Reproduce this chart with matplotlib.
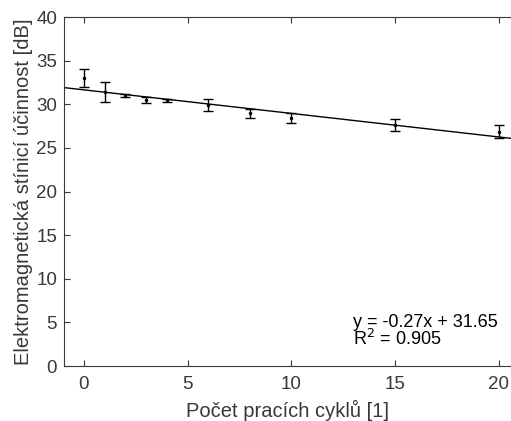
import matplotlib.pyplot as plt

plt.rcParams['font.family'] = ['Liberation Sans', 'DejaVu Sans']

cycles = [0, 1, 2, 3, 4, 6, 8, 10, 15, 20]
se = [33.0, 31.4, 30.98, 30.5, 30.45, 29.95, 28.96, 28.43, 27.57, 26.85]
err = [1.07, 1.15, 0.19, 0.33, 0.2, 0.7, 0.52, 0.53, 0.69, 0.76]
slope, intercept = -0.27, 31.65
r2 = 0.905

txt = '#383838'
fig = plt.figure(figsize=(5.11, 4.21), dpi=100)
ax = fig.add_axes([0.1252, 0.1306, 0.8748, 0.829])

xl = (-0.964, 20.58)
ax.plot(xl, [slope * x + intercept for x in xl], color='black', lw=1)
ax.errorbar(cycles, se, yerr=err, fmt='.', ms=3, color='black',
            ecolor='black', elinewidth=1, capsize=3.5, capthick=1)

ax.set_xlim(xl)
ax.set_ylim(0, 40)
ax.set_xticks([0, 5, 10, 15, 20])
ax.set_yticks(range(0, 41, 5))
ax.spines['right'].set_visible(False)
ax.tick_params(direction='in', top=True, right=False, labelsize=13.5,
               colors=txt, length=4)
ax.tick_params(axis='x', pad=7)
ax.tick_params(axis='y', pad=5)
for s in ax.spines.values():
    s.set_color(txt)
    s.set_linewidth(0.8)
ax.set_xlabel('Počet pracích cyklů [1]', fontsize=14.5, color=txt, labelpad=5.5)
ax.set_ylabel('Elektromagnetická stínicí účinnost [dB]', fontsize=14.5,
              color=txt, labelpad=2)
ax.text(12.96, 2.0, 'y = %.2fx + %.2f\nR$^2$ = %.3f' % (slope, intercept, r2),
        fontsize=13, color='black', linespacing=0.85, va='bottom')

fig.savefig('out.png', dpi=100)
